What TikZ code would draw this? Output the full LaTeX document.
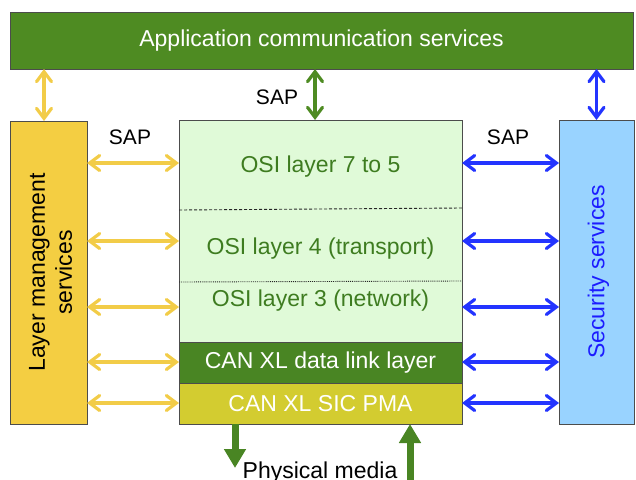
\documentclass[tikz,border=0pt]{standalone}
\usepackage{fontspec}
\setmainfont{Liberation Sans}
\usetikzlibrary{arrows.meta, positioning}

\definecolor{appgreen}{RGB}{78,139,34}
\definecolor{osifill}{RGB}{224,250,216}
\definecolor{ositext}{RGB}{62,124,32}
\definecolor{dllgreen}{RGB}{73,133,35}
\definecolor{pmafill}{RGB}{211,204,48}
\definecolor{lmfill}{RGB}{244,206,66}
\definecolor{sapyellow}{RGB}{242,204,72}
\definecolor{sapblue}{RGB}{35,52,255}
\definecolor{secfill}{RGB}{153,211,255}
\definecolor{sectext}{RGB}{28,28,255}

\begin{document}
\begin{tikzpicture}[x=1pt, y=-1pt, node distance=0pt,
   >={Straight Barb[length=10pt, width=15pt, line cap=round]},
   box/.style={draw=black!70, line width=0.6pt, inner sep=0pt, outer sep=0pt},
   big/.style={font=\fontsize{23}{27}\selectfont},
   sap/.style={font=\fontsize{21}{25}\selectfont},
   sapy/.style={<->, draw=sapyellow, line width=3.2pt},
   sapb/.style={<->, draw=sapblue, line width=3.2pt},
   sapg/.style={<->, draw=appgreen, line width=3.2pt},
   media/.style={-{Triangle[length=19pt, width=21pt]}, draw=dllgreen, line width=7pt}]
   \useasboundingbox (0,0) rectangle (636,479);

   \node[box, big, fill=appgreen, text=white, minimum width=623pt, minimum height=57pt] (app) at (321.5,40.5) {Application communication services};
   \node[box, fill=osifill, minimum width=283pt, minimum height=222pt] (osi) at (320.5,231) {};
   \node[box, big, fill=dllgreen, text=white, minimum width=283pt, minimum height=41pt, below=of osi] (dll) {CAN XL data link layer};
   \node[box, big, fill=pmafill, text=white, minimum width=283pt, minimum height=41pt, below=of dll] (pma) {CAN XL SIC PMA};
   \node[box, fill=lmfill, minimum width=77pt, minimum height=303pt] (lm) at (48.5,272.5) {};
   \node[big, rotate=90, align=center] (lmtext) at ([xshift=2pt]lm) {Layer management\\services};
   \node[box, fill=secfill, minimum width=75pt, minimum height=304pt] (sec) at (596.5,272) {};
   \node[big, rotate=90, text=sectext] (sectitle) at ([xshift=2pt]sec) {Security services};

   \node[big, text=ositext] (l75) at (320.5,167) {OSI layer 7 to 5};
   \node[big, text=ositext] (l4) at (320.5,249) {OSI layer 4 (transport)};
   \node[big, text=ositext] (l3) at (320.5,301) {OSI layer 3 (network)};
   \draw[densely dashed, line width=0.9pt, black!85] (osi.west |- 0,210) -- (osi.east |- 0,208);
   \draw[densely dotted, line width=0.9pt, black!85] (osi.west |- 0,282) -- (osi.east |- 0,281);

   \node[sap] (sapmid) at (277,97) {SAP};
   \node[sap] (sapleft) at (130,137) {SAP};
   \node[sap] (sapright) at (508,137) {SAP};

   \draw[sapy] ([xshift=-4.5pt]lm.north) -- (app.south -| 44,0);
   \draw[sapg] ([xshift=-5.5pt]osi.north) -- (app.south -| 315,0);
   \draw[sapb] (sec.north) -- (app.south -| sec.north);
   \foreach \y in {163,241,307,362,403} {
      \draw[sapy] (lm.east |- 0,\y) -- (osi.west |- 0,\y);
      \draw[sapb] (osi.east |- 0,\y) -- (sec.west |- 0,\y);
   }

   \coordinate (down) at (235,468);
   \coordinate (up) at (410,424);
   \node[big, anchor=base] (phys) at (320,478) {Physical media};
   \draw[media] (pma.south -| down) -- (down);
   \draw[media] (up |- 0,480) -- (up);
\end{tikzpicture}
\end{document}
